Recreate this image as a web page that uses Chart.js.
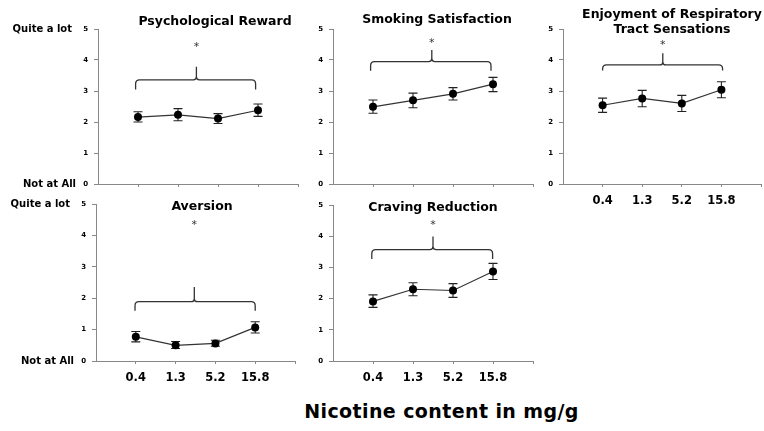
<!DOCTYPE html>
<html>
<head>
<meta charset="utf-8">
<script src="https://cdn.jsdelivr.net/npm/chart.js@4.4.1/dist/chart.umd.min.js"></script>
<style>
html,body{margin:0;padding:0;background:#fff;width:764px;height:431px;overflow:hidden;position:relative;}
canvas{position:absolute;}
#xtitle{position:absolute;left:0;width:883px;top:400px;line-height:22px;text-align:center;font:bold 19px "DejaVu Sans",sans-serif;letter-spacing:0.4px;color:#000;}
</style>
</head>
<body>
<div id="xtitle">Nicotine content in mg/g</div>
<script>
// ---- data ----
const doses = ['0.4', '1.3', '5.2', '15.8'];
const yTickValues = [0, 1, 2, 3, 4, 5];
const scaleLabels = ['Not at All', 'Quite a lot'];

const psychMean = [2.16, 2.23, 2.11, 2.38];
const psychLow  = [2.00, 2.04, 1.95, 2.18];
const psychHigh = [2.33, 2.43, 2.27, 2.58];

const satisMean = [2.49, 2.70, 2.91, 3.22];
const satisLow  = [2.28, 2.46, 2.71, 2.98];
const satisHigh = [2.71, 2.93, 3.11, 3.44];

const respMean = [2.54, 2.76, 2.60, 3.04];
const respLow  = [2.31, 2.49, 2.34, 2.78];
const respHigh = [2.77, 3.02, 2.86, 3.30];

const aversMean = [0.77, 0.50, 0.56, 1.07];
const aversLow  = [0.61, 0.40, 0.47, 0.89];
const aversHigh = [0.94, 0.62, 0.66, 1.25];

const cravMean = [1.91, 2.30, 2.26, 2.87];
const cravLow  = [1.72, 2.09, 2.04, 2.61];
const cravHigh = [2.12, 2.51, 2.48, 3.13];

// significance brackets: [from, to, centre, endLevel, barLevel, peakLevel, starLevel] in data units
const psychBracket = [0.94, 3.94, 2.46, 3.05, 3.36, 3.78, 4.48];
const satisBracket = [0.94, 3.95, 2.47, 3.65, 3.95, 4.32, 4.60];
const respBracket  = [1.00, 4.03, 2.52, 3.66, 3.84, 4.22, 4.54];
const aversBracket = [0.98, 4.00, 2.47, 1.60, 1.89, 2.36, 4.39];
const cravBracket  = [0.97, 3.99, 2.50, 3.27, 3.57, 3.99, 4.42];

// ---- layout ----
const PADL = 95, PADR = 6, PADT = 30, PADB = 30, YW = 20, XH = 26;
const FONT = '"DejaVu Sans", sans-serif';

const panels = [
  {title: ['Psychological Reward'], mean: psychMean, lo: psychLow, hi: psychHigh, br: psychBracket,
   area: {l: 98, r: 299, t: 29, b: 184}, titleX: 215, titleY: [22], xLabels: false, side: true},
  {title: ['Smoking Satisfaction'], mean: satisMean, lo: satisLow, hi: satisHigh, br: satisBracket,
   area: {l: 333, r: 534, t: 29, b: 184}, titleX: 437, titleY: [20], xLabels: false, side: false},
  {title: ['Enjoyment of Respiratory', 'Tract Sensations'], mean: respMean, lo: respLow, hi: respHigh, br: respBracket,
   area: {l: 563, r: 762, t: 29, b: 184}, titleX: 672, titleY: [15, 30], xLabels: true, side: false},
  {title: ['Aversion'], mean: aversMean, lo: aversLow, hi: aversHigh, br: aversBracket,
   area: {l: 96, r: 296, t: 204, b: 361}, titleX: 202, titleY: [207], xLabels: true, side: true},
  {title: ['Craving Reduction'], mean: cravMean, lo: cravLow, hi: cravHigh, br: cravBracket,
   area: {l: 333, r: 534, t: 205, b: 361}, titleX: 433, titleY: [208], xLabels: true, side: false}
];

const decor = {
  id: 'decor',
  beforeDatasetsDraw(chart, args, opts) {
    const p = opts.panel; const {ctx} = chart; const x = chart.scales.x, y = chart.scales.y;
    ctx.save();
    ctx.strokeStyle = '#222'; ctx.lineWidth = 1.1;
    p.mean.forEach((m, i) => {
      const px = x.getPixelForValue(i + 1);
      const yl = y.getPixelForValue(p.lo[i]), yh = y.getPixelForValue(p.hi[i]);
      ctx.beginPath();
      ctx.moveTo(px, yl); ctx.lineTo(px, yh);
      ctx.moveTo(px - 4.5, yl); ctx.lineTo(px + 4.5, yl);
      ctx.moveTo(px - 4.5, yh); ctx.lineTo(px + 4.5, yh);
      ctx.stroke();
    });
    ctx.restore();
  },
  afterDraw(chart, args, opts) {
    const p = opts.panel; const {ctx} = chart; const x = chart.scales.x, y = chart.scales.y;
    const cv = chart.canvas; const offX = parseFloat(cv.style.left), offY = parseFloat(cv.style.top);
    ctx.save();
    // bracket
    const [a, b, c, e, h, s, st] = p.br;
    const xa = x.getPixelForValue(a), xb = x.getPixelForValue(b), xc = x.getPixelForValue(c);
    const ye = y.getPixelForValue(e), yh = y.getPixelForValue(h), ys = y.getPixelForValue(s), yst = y.getPixelForValue(st);
    const r = 4;
    ctx.strokeStyle = '#333'; ctx.lineWidth = 1.3;
    ctx.beginPath();
    ctx.moveTo(xa, ye);
    ctx.lineTo(xa, yh + r);
    ctx.quadraticCurveTo(xa, yh, xa + r, yh);
    ctx.lineTo(xc - 3, yh);
    ctx.quadraticCurveTo(xc, yh, xc, yh - 3);
    ctx.lineTo(xc, ys);
    ctx.moveTo(xc, yh - 3);
    ctx.quadraticCurveTo(xc, yh, xc + 3, yh);
    ctx.lineTo(xb - r, yh);
    ctx.quadraticCurveTo(xb, yh, xb, yh + r);
    ctx.lineTo(xb, ye);
    ctx.stroke();
    ctx.fillStyle = '#333';
    ctx.font = '11px ' + FONT;
    ctx.textAlign = 'center'; ctx.textBaseline = 'middle';
    ctx.fillText('*', xc, yst + 2);
    // title
    ctx.fillStyle = '#000';
    ctx.font = 'bold 12.5px ' + FONT;
    p.title.forEach((t, i) => ctx.fillText(t, p.titleX - offX, p.titleY[i] - offY));
    // side labels
    if (p.side) {
      ctx.font = 'bold 10px ' + FONT;
      ctx.textAlign = 'right';
      ctx.fillText(scaleLabels[1], chart.chartArea.left - 26, y.getPixelForValue(5) + 0.5);
      ctx.fillText(scaleLabels[0], chart.chartArea.left - 22, y.getPixelForValue(0) + 0.5);
    }
    ctx.restore();
  }
};

panels.forEach((p) => {
  const cv = document.createElement('canvas');
  const w = p.area.r - p.area.l + PADL + PADR;
  const hgt = p.area.b - p.area.t + PADT + PADB;
  cv.width = w; cv.height = hgt;
  cv.style.width = w + 'px'; cv.style.height = hgt + 'px';
  cv.style.left = (p.area.l - PADL) + 'px';
  cv.style.top = (p.area.t - PADT) + 'px';
  document.body.appendChild(cv);
  new Chart(cv, {
    type: 'line',
    data: {
      datasets: [{
        data: p.mean.map((m, i) => ({x: i + 1, y: m})),
        borderColor: '#333', borderWidth: 1.2,
        pointRadius: 4, pointHoverRadius: 4,
        pointBackgroundColor: '#000', pointBorderColor: '#000', pointBorderWidth: 0,
        tension: 0, clip: false
      }]
    },
    options: {
      responsive: false, animation: false, devicePixelRatio: 1,
      layout: {padding: {left: PADL - YW, right: PADR, top: PADT, bottom: PADB - XH}},
      plugins: {legend: {display: false}, tooltip: {enabled: false}, title: {display: false}, decor: {panel: p}},
      scales: {
        x: {
          type: 'linear', min: 0, max: 5,
          afterBuildTicks: (s) => { s.ticks = [1, 2, 3, 4, 5].map(v => ({value: v})); },
          afterFit: (s) => { s.height = XH; },
          ticks: {
            autoSkip: false, maxRotation: 0, padding: 7, color: '#000',
            font: {family: FONT, size: 11.5, weight: 'bold'},
            callback: (v) => (p.xLabels && v >= 1 && v <= 4) ? doses[v - 1] : ''
          },
          grid: {display: true, drawOnChartArea: false, drawTicks: true, tickLength: 3, color: '#888'},
          border: {display: true, color: '#888', width: 1}
        },
        y: {
          type: 'linear', min: 0, max: 5,
          afterBuildTicks: (s) => { s.ticks = yTickValues.map(v => ({value: v})); },
          afterFit: (s) => { s.width = YW; },
          ticks: {padding: 6, color: '#000', font: {family: FONT, size: 7, weight: 'bold'}},
          grid: {display: true, drawOnChartArea: false, drawTicks: true, tickLength: 4, color: '#888'},
          border: {display: true, color: '#888', width: 1}
        }
      }
    },
    plugins: [decor]
  });
});
</script>
</body>
</html>
